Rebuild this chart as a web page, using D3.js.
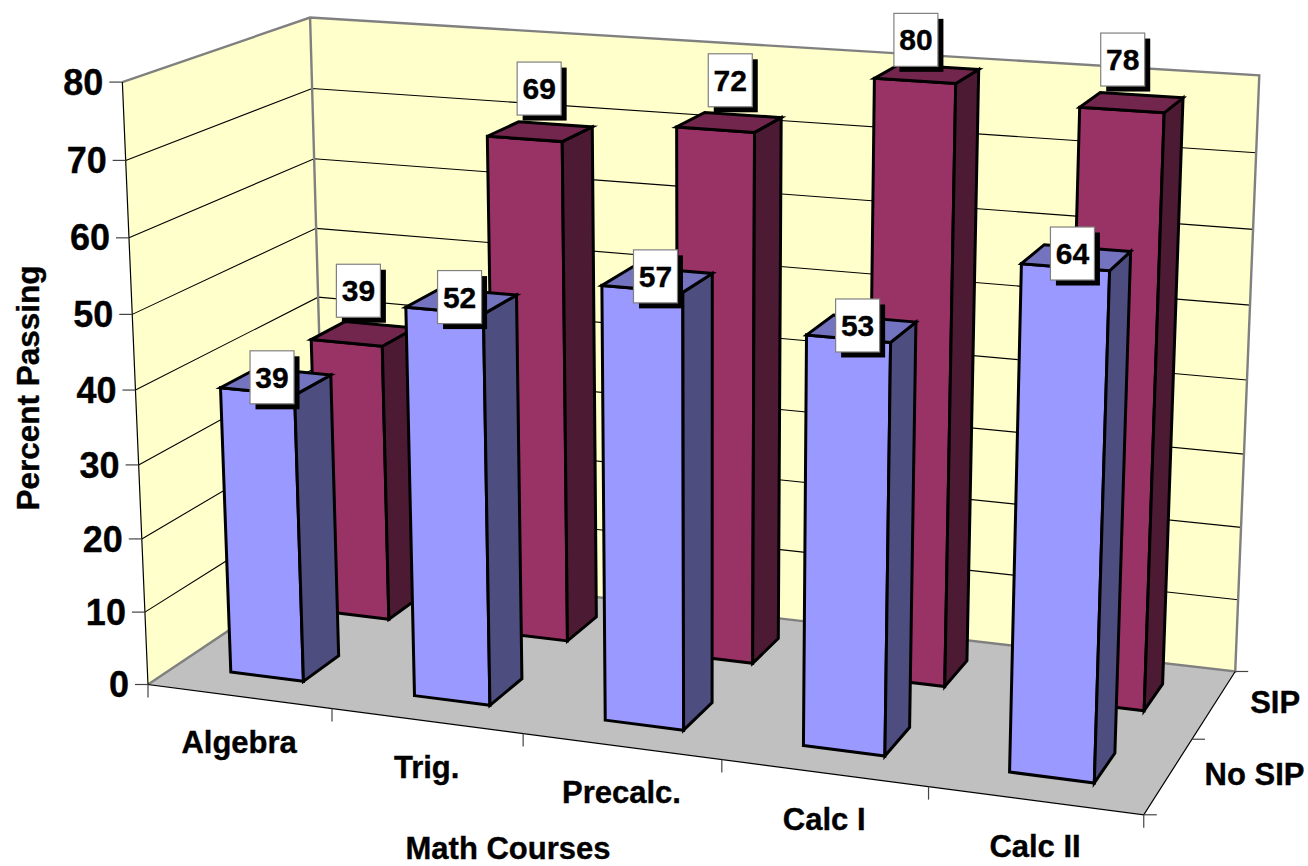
<!DOCTYPE html>
<html><head><meta charset="utf-8">
<script src="https://cdn.jsdelivr.net/npm/d3@7/dist/d3.min.js"></script>
<style>html,body{margin:0;padding:0;background:#fff}svg{display:block}text{font-family:"Liberation Sans",Arial,sans-serif;font-weight:bold;fill:#000;stroke:#000;stroke-width:0.35px}</style>
</head><body><svg id="c" width="1308" height="866"></svg>
<script>
const categories = ["Algebra","Trig.","Precalc.","Calc I","Calc II"];
const seriesNames = ["No SIP","SIP"];
const noSipValues = [39,52,57,53,64];
const sipValues = [39,69,72,80,78];
const valueTicks = [0,10,20,30,40,50,60,70,80];
const xTitle = "Math Courses", yTitle = "Percent Passing";

// Camera calibration: world (category position, depth, value) to page position
const calibration = [
 [0,0,0,148,684],[0,0,40,135.5,390],[0,0,80,123,82],
 [0,1,0,327,565],[0,1,40,318,298],[0,1,80,309,17],
 [5,1,0,1236,671],[5,1,50,1250,305],[5,1,70,1256,153],[5,1,80,1258,75],
 [5,0,0,1143,815],[1,0,0,331.5,708],[2,0,0,523,733.5],[3,0,0,722,759.5],[4,0,0,929,787],
 [4.3,.15,64,1021.7,263.3],[4.7,.15,64,1110,270],[4.3,.15,0,1009.3,771.7],[4.7,.15,0,1094,782.7],
 [4.3,.65,78,1080,107.7],[4.7,.65,78,1165,113.3],[4.7,.65,0,1144,711.7],
 [.3,.15,39,220,388],[.7,.15,39,296,396],[.3,.15,0,230,672],[.7,.15,0,303,682]
];
function fitCamera(pts){
  const n=11, A=d3.range(n).map(()=>new Array(n+1).fill(0));
  const add=(r,b)=>{for(let i=0;i<n;i++){for(let j=0;j<n;j++)A[i][j]+=r[i]*r[j];A[i][n]+=r[i]*b;}};
  pts.forEach(([x,z,v,u,w])=>{
    const X=x/5,Z=z,Y=v/80,U=u/1000,W=w/1000;
    add([X,Y,Z,1,0,0,0,0,-U*X,-U*Y,-U*Z],U);
    add([0,0,0,0,X,Y,Z,1,-W*X,-W*Y,-W*Z],W);
  });
  for(let c=0;c<n;c++){
    let p=c;for(let r=c+1;r<n;r++)if(Math.abs(A[r][c])>Math.abs(A[p][c]))p=r;
    [A[c],A[p]]=[A[p],A[c]];
    for(let r=0;r<n;r++){if(r===c)continue;const f=A[r][c]/A[c][c];for(let k=c;k<=n;k++)A[r][k]-=f*A[c][k];}
  }
  return A.map((row,i)=>row[n]/row[i]);
}
const m=fitCamera(calibration);
const project=(x,z,v)=>{
  const X=x/5,Y=v/80,Z=z,d=m[8]*X+m[9]*Y+m[10]*Z+1;
  return [1000*(m[0]*X+m[1]*Y+m[2]*Z+m[3])/d,1000*(m[4]*X+m[5]*Y+m[6]*Z+m[7])/d];
};

const xBand=d3.scaleBand().domain(categories).range([0,5]).paddingInner(0.6).paddingOuter(0.3);
const zBand=d3.scaleBand().domain(seriesNames).range([0,1]).paddingInner(0.6).paddingOuter(0.3);
const vScale=d3.scaleLinear().domain([0,80]).range([0,80]);
const xMax=5, zMax=1, vMax=80;

const svg=d3.select("#c");
const line=d3.line();
const poly=pts=>line(pts)+"Z";

// walls and floor
svg.append("path").attr("d",poly([project(0,0,0),project(0,1,0),project(0,1,vMax),project(0,0,vMax)])).attr("fill","#FFFFCC");
svg.append("path").attr("d",poly([project(0,1,0),project(xMax,1,0),project(xMax,1,vMax),project(0,1,vMax)])).attr("fill","#FFFFCC");
svg.append("path").attr("d",poly([project(0,0,0),project(xMax,0,0),project(xMax,1,0),project(0,1,0)])).attr("fill","#C0C0C0");

// gridlines
const grid=svg.append("g").attr("fill","none").attr("stroke","#000").attr("stroke-width",1.1);
valueTicks.filter(v=>v>0&&v<vMax).forEach(v=>{
  grid.append("path").attr("d",line([project(0,0,vScale(v)),project(0,1,vScale(v)),project(xMax,1,vScale(v))]));
});

// grey wall edges
const edge=svg.append("g").attr("fill","none").attr("stroke","#808080").attr("stroke-width",2.4);
edge.append("path").attr("d",line([project(0,0,0),project(0,1,0),project(xMax,1,0),project(xMax,1,vMax),project(0,1,vMax),project(0,0,vMax)]));
edge.append("path").attr("d",line([project(0,1,0),project(0,1,vMax)]));

// axis lines and ticks
const axis=svg.append("g").attr("fill","none").attr("stroke","#000").attr("stroke-width",1.2);
axis.append("path").attr("d",line([project(0,0,vMax),project(0,0,0),project(xMax,0,0),project(xMax,1,0)]));
const tick=svg.append("g").attr("fill","none").attr("stroke","#444").attr("stroke-width",1.2);
const labels=svg.append("g");
valueTicks.forEach(v=>{
  const [a,b]=project(0,0,vScale(v));
  tick.append("line").attr("x1",a-13).attr("x2",a).attr("y1",b).attr("y2",b);
  labels.append("text").attr("x",a-19).attr("y",b).attr("dy","0.35em").attr("text-anchor","end").attr("font-size",36).text(v);
});
d3.range(0,xMax+1).forEach(i=>{
  const [a,b]=project(i,0,0);
  tick.append("line").attr("x1",a).attr("x2",a).attr("y1",b).attr("y2",b+13);
});
d3.range(0,3).forEach(i=>{
  const [a,b]=project(xMax,i/2,0);
  tick.append("line").attr("x1",a).attr("x2",a+13).attr("y1",b).attr("y2",b);
});
categories.forEach(c=>{
  const [a,b]=project(xBand(c)+xBand.bandwidth()/2,0,0);
  labels.append("text").attr("x",a).attr("y",b+46).attr("dy","0.35em").attr("text-anchor","middle").attr("font-size",31).text(c);
});
seriesNames.forEach(s=>{
  const [a,b]=project(xMax,zBand(s)+zBand.bandwidth()/2,0);
  labels.append("text").attr("x",a+36).attr("y",b-2).attr("dy","0.35em").attr("font-size",31).text(s);
});
labels.append("text").attr("x",508).attr("y",848.5).attr("dy","0.35em").attr("text-anchor","middle").attr("font-size",31).text(xTitle);
labels.append("text").attr("transform","translate(28,388) rotate(-90)").attr("dy","0.35em").attr("text-anchor","middle").attr("font-size",31.5).text(yTitle);

// bars: back row first
const seriesStyle={
  "SIP":{values:sipValues,front:"#993366",side:"#4D1A33",top:"#73264D",dx:-5,dy:-44,nx:[0,4,6,-6,-4],ny:[1,1,2,10,1]},
  "No SIP":{values:noSipValues,front:"#9999FF",side:"#4D4D80",top:"#7373BF",dx:-4,dy:-4,nx:[0,2,2,0,0],ny:[0,0,1,1,0]}
};
const barLayer=svg.append("g"), valueLayer=svg.append("g");
["SIP","No SIP"].forEach(s=>{
  const st=seriesStyle[s], z0=zBand(s), z1=z0+zBand.bandwidth();
  const rows=categories.map((c,i)=>({c,i,v:st.values[i]}));
  const g=barLayer.selectAll(null).data(rows).join("g").attr("stroke","#000").attr("stroke-width",3).attr("stroke-linejoin","miter");
  const xs=d=>[xBand(d.c),xBand(d.c)+xBand.bandwidth()];
  g.append("path").attr("fill",st.front).attr("d",d=>{const [a,b]=xs(d),h=vScale(d.v);return poly([project(a,z0,0),project(b,z0,0),project(b,z0,h),project(a,z0,h)]);});
  g.append("path").attr("fill",st.side).attr("d",d=>{const [,b]=xs(d),h=vScale(d.v);return poly([project(b,z0,0),project(b,z1,0),project(b,z1,h),project(b,z0,h)]);});
  g.append("path").attr("fill",st.top).attr("d",d=>{const [a,b]=xs(d),h=vScale(d.v);return poly([project(a,z0,h),project(b,z0,h),project(b,z1,h),project(a,z1,h)]);});
  rows.forEach(d=>{
    const [a,b]=xs(d),h=vScale(d.v);
    const [u,w]=project((a+b)/2,(z0+z1)/2,h);
    const cx=u+st.dx+st.nx[d.i], cy=w+st.dy+st.ny[d.i];
    const l=valueLayer.append("g").attr("transform",`translate(${cx},${cy})`);
    l.append("rect").attr("x",-22+5.5).attr("y",-26.5+5.5).attr("width",44).attr("height",53).attr("fill","#000");
    l.append("rect").attr("x",-22).attr("y",-26.5).attr("width",44).attr("height",53).attr("fill","#fff").attr("stroke","#808080").attr("stroke-width",1.2);
    l.append("text").attr("dy","0.35em").attr("text-anchor","middle").attr("font-size",30).text(d.v);
  });
});
</script></body></html>
